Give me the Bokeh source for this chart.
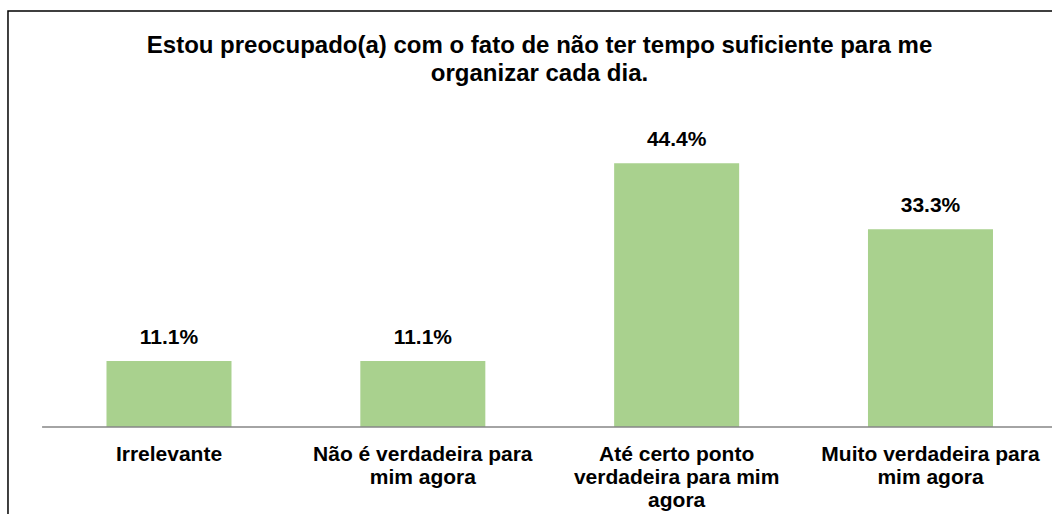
from bokeh.plotting import figure
from bokeh.models import Range1d, ColumnDataSource
from bokeh.core.properties import value
from bokeh.embed import file_html
from bokeh.resources import INLINE

title_text = "Estou preocupado(a) com o fato de não ter tempo suficiente para me\norganizar cada dia."
categories = [
    "Irrelevante",
    "Não é verdadeira para\nmim agora",
    "Até certo ponto\nverdadeira para mim\nagora",
    "Muito verdadeira para\nmim agora",
]
values = [11.1, 11.1, 44.4, 33.3]
value_labels = ["11.1%", "11.1%", "44.4%", "33.3%"]

FONT = "Liberation Sans"
xs = list(range(len(categories)))

src = ColumnDataSource(dict(
    x=xs,
    top=values,
    lab=value_labels,
    lab_y=[v + 4.2 for v in values],
    cat=categories,
    cat_y=[-2.6] * len(categories),
))

X0, X1 = -0.6638, 3.4807
Y0, Y1 = -14.73, 71.80

p = figure(width=1052, height=514, output_backend="svg", toolbar_location=None,
           x_range=Range1d(X0, X1), y_range=Range1d(Y0, Y1),
           min_border=0, min_border_left=0, min_border_right=0,
           min_border_top=0, min_border_bottom=0)
p.xaxis.visible = False
p.yaxis.visible = False
p.grid.visible = False
p.outline_line_color = None
p.background_fill_color = "white"
p.border_fill_color = "white"

p.vbar(x="x", top="top", bottom=0, width=0.4925, source=src,
       fill_color="#A9D18E", line_color=None)

# category baseline (axis line)
p.segment(x0=[-0.5], y0=[0], x1=[X1], y1=[0],
          line_color="#868686", line_width=1.5)

p.text(x="x", y="lab_y", text="lab", source=src,
       text_font=value(FONT), text_font_style="bold", text_font_size="21px",
       text_align="center", text_baseline="alphabetic", text_color="black")

p.text(x="x", y="cat_y", text="cat", source=src,
       text_font=value(FONT), text_font_style="bold", text_font_size="21px",
       text_align="center", text_baseline="top", text_color="black",
       text_line_height=1.0)

p.text(x=[1.4597], y=[66.6], text=[title_text],
       text_font=value(FONT), text_font_style="bold", text_font_size="24px",
       text_align="center", text_baseline="top", text_color="black",
       text_line_height=1.04)

# outer chart border (left and top edges visible, joined at the corner)
BX, BY = -0.6343, 70.03
p.line(x=[BX, BX, X1], y=[Y0, BY, BY], line_color="black", line_width=1.5,
       line_join="miter")

open("out.html", "w").write(file_html(p, INLINE))
